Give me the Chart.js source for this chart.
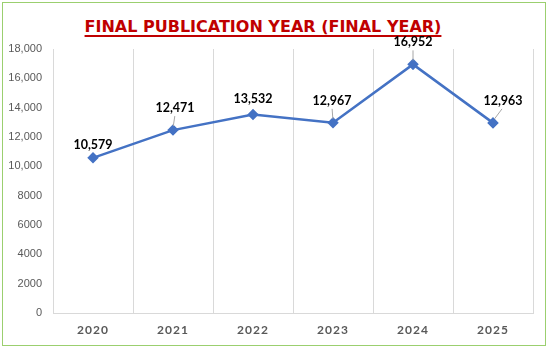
<!DOCTYPE html>
<html lang="en">
<head>
  <meta charset="UTF-8" />
  <title>Final Publication Year</title>
  <script src="https://cdn.jsdelivr.net/npm/chart.js"></script>
  <style>
    body {
      margin: 0;
      background: white;
    }
    .frame {
      position: relative;
      width: 550px;
      height: 350px;
    }
    .border {
      position: absolute;
      left: 2px;
      top: 2px;
      width: 542px;
      height: 342px;
      border: 1.5px solid #9bcf6f;
    }
    h1 {
      position: absolute;
      left: -12px;
      width: 550px;
      top: 17px;
      margin: 0;
      text-align: center;
      font-family: "DejaVu Sans", sans-serif;
      font-weight: bold;
      font-size: 16px;
      color: #c00000;
      text-decoration: underline;
      text-decoration-thickness: 2px;
      text-underline-offset: 3px;
    }
    .chart-box {
      position: absolute;
      left: 0;
      top: 0;
      width: 550px;
      height: 350px;
    }
  </style>
</head>
<body>
  <div class="frame">
    <div class="border"></div>
    <h1>FINAL PUBLICATION YEAR (FINAL YEAR)</h1>
    <div class="chart-box"><canvas id="yearChart" width="550" height="350"></canvas></div>
  </div>

  <script>
    const years = ["2020", "2021", "2022", "2023", "2024", "2025"];
    const publications = [10579, 12471, 13532, 12967, 16952, 12963];
    const yTicks = [0, 2000, 4000, 6000, 8000, 10000, 12000, 14000, 16000, 18000];

    // label placement relative to each point: [dx, dy, leader line?]
    const labelPlace = [[0, -13, false], [2, -22, true], [0, -16, false], [-1, -22, true], [0, -22, true], [10, -22, true]];

    const pointLabels = {
      id: "pointLabels",
      afterDatasetsDraw(chart) {
        const ctx = chart.ctx;
        const pts = chart.getDatasetMeta(0).data;
        ctx.save();
        ctx.font = "bold 12.5px Lato";
        ctx.textAlign = "center";
        ctx.textBaseline = "middle";
        pts.forEach((p, i) => {
          const [dx, dy, lead] = labelPlace[i];
          const lx = p.x + dx, ly = p.y + dy;
          if (lead) {
            ctx.strokeStyle = "#a6a6a6";
            ctx.lineWidth = 1;
            ctx.beginPath();
            ctx.moveTo(lx - dx * 0.1, ly + 8);
            ctx.lineTo(p.x + dx * 0.15, p.y - 4);
            ctx.stroke();
          }
          ctx.fillStyle = "#000000";
          ctx.fillText(publications[i].toLocaleString("en-US"), lx, ly);
        });
        ctx.restore();
      }
    };

    new Chart(document.getElementById("yearChart"), {
      type: "line",
      data: {
        labels: years,
        datasets: [{
          data: publications,
          borderColor: "#4472c4",
          backgroundColor: "#4472c4",
          borderWidth: 2.5,
          pointStyle: "rectRot",
          pointRadius: 4,
          pointHoverRadius: 4,
          tension: 0
        }]
      },
      options: {
        responsive: false,
        animation: false,
        layout: { padding: { top: 49, right: 17, bottom: 0, left: 0 } },
        plugins: {
          legend: { display: false },
          tooltip: { enabled: false }
        },
        scales: {
          x: {
            offset: true,
            grid: { offset: true, color: "#d9d9d9", drawTicks: false },
            border: { color: "#d9d9d9" },
            ticks: {
              color: "#595959",
              font: { family: "Lato", size: 12, weight: "bold" },
              padding: 10
            },
            afterFit(scale) { scale.height = 37; },
            afterUpdate(scale) {
              // spaced-out year labels
              const draw = scale.drawLabels;
              scale.drawLabels = function (area) {
                this.ctx.save();
                this.ctx.letterSpacing = "1px";
                draw.call(this, area);
                this.ctx.restore();
              };
            }
          },
          y: {
            min: 0,
            max: 18000,
            afterBuildTicks(scale) { scale.ticks = yTicks.map(v => ({ value: v })); },
            grid: { display: false, drawTicks: false },
            border: { display: false },
            ticks: {
              color: "#595959",
              font: { family: "Liberation Sans", size: 11 },
              padding: 11,
              callback: v => v >= 10000 ? v.toLocaleString("en-US") : String(v)
            },
            afterFit(scale) { scale.width = 53; }
          }
        }
      },
      plugins: [pointLabels]
    });
  </script>
</body>
</html>
